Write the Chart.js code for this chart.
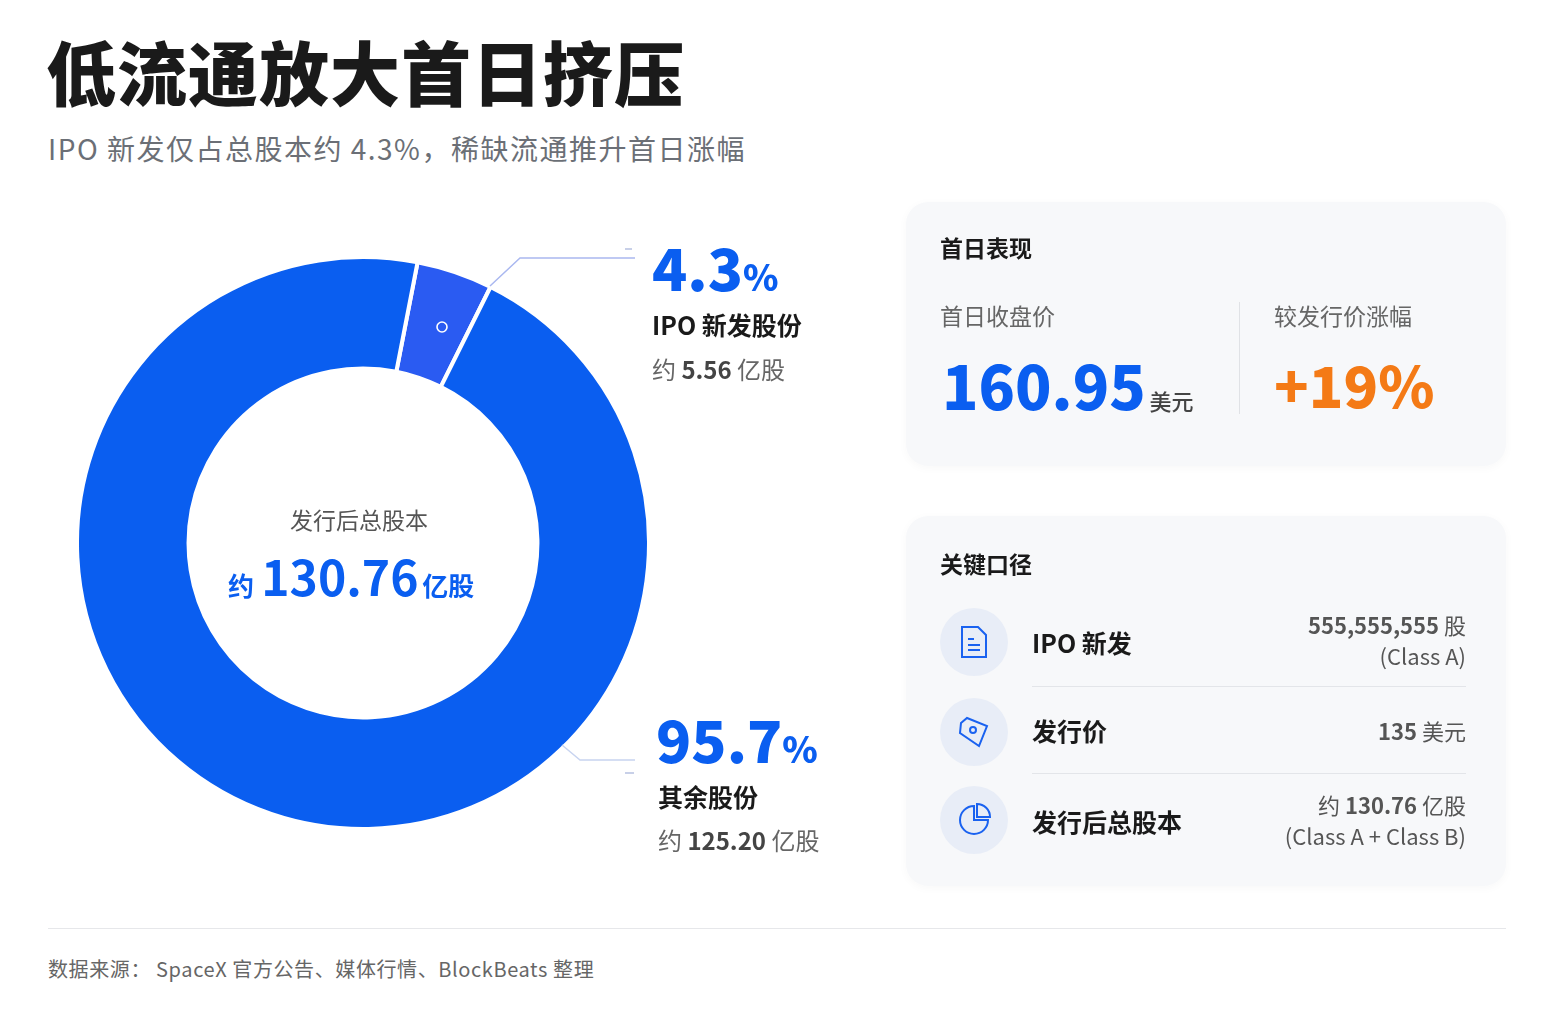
<!DOCTYPE html>
<html><head><meta charset="utf-8">
<script src="https://cdn.jsdelivr.net/npm/chart.js@4"></script>
<style>
body{margin:0;width:1555px;height:1011px;background:#fff;font-family:"Noto Sans CJK SC","Noto Sans",sans-serif;position:relative;overflow:hidden;color:#1a1a1a}
.abs{position:absolute;white-space:nowrap}
.card{position:absolute;background:#f7f8fa;border-radius:22px;box-shadow:0 2px 10px rgba(0,0,0,0.03)}
.blue{color:#0a5ef0}
.ic{position:absolute;left:34px;width:68px;height:68px;border-radius:50%;background:#e8edf7;display:flex;align-items:center;justify-content:center}
.sep{position:absolute;left:126px;right:40px;height:1px;background:#e3e5e9}
</style></head><body>
<div class="abs" style="left:46px;top:20px;font-size:70px;font-weight:900;letter-spacing:1px">低流通放大首日挤压</div>
<div class="abs" style="left:48px;top:128px;font-size:28px;color:#6b6f76;letter-spacing:1.5px">IPO 新发仅占总股本约 4.3%，稀缺流通推升首日涨幅</div>

<div style="position:absolute;left:75px;top:255px;width:576px;height:576px"><canvas id="donut"></canvas></div>
<svg class="abs" style="left:0;top:0" width="900" height="900">
<polyline points="490,286 520,258 635,258" fill="none" stroke="#aab8f0" stroke-width="1.5"/>
<line x1="625" y1="249" x2="632" y2="249" stroke="#c8d0e8" stroke-width="2"/>
<polyline points="562,745 580,760 635,760" fill="none" stroke="#c8d4f0" stroke-width="1.5"/>
<line x1="625" y1="773" x2="634" y2="773" stroke="#c8d0e8" stroke-width="2"/>
<circle cx="442" cy="327" r="5" fill="none" stroke="#fff" stroke-width="1.6"/>
</svg>
<div class="abs" style="left:290px;top:502px;font-size:23px;color:#555">发行后总股本</div>
<div class="abs blue" style="left:228px;top:540px;font-weight:700"><span style="font-size:26px">约</span>&nbsp; <span style="font-size:48px">130.76</span> <span style="font-size:26px">亿股</span></div>

<div class="abs blue" style="left:652px;top:224px;font-weight:800"><span style="font-size:58px">4.3</span><span style="font-size:36px">%</span></div>
<div class="abs" style="left:652px;top:306px;font-size:25px;font-weight:700">IPO 新发股份</div>
<div class="abs" style="left:652px;top:351px;font-size:24px;color:#666">约 <b style="color:#444">5.56</b> 亿股</div>
<div class="abs blue" style="left:656px;top:696px;font-weight:800"><span style="font-size:58px">95.7</span><span style="font-size:36px">%</span></div>
<div class="abs" style="left:658px;top:778px;font-size:25px;font-weight:700">其余股份</div>
<div class="abs" style="left:658px;top:822px;font-size:24px;color:#666">约 <b style="color:#444">125.20</b> 亿股</div>

<div class="card" style="left:906px;top:202px;width:600px;height:264px">
 <div class="abs" style="left:34px;top:28px;font-size:23px;font-weight:700">首日表现</div>
 <div class="abs" style="left:34px;top:96px;font-size:23px;color:#666">首日收盘价</div>
 <div class="abs blue" style="left:36px;top:138px;font-weight:800"><span style="font-size:60px">160.95</span> <span style="font-size:22px;color:#444;font-weight:500">美元</span></div>
 <div class="abs" style="left:333px;top:100px;width:1px;height:112px;background:#e0e2e6"></div>
 <div class="abs" style="left:368px;top:96px;font-size:23px;color:#666">较发行价涨幅</div>
 <div class="abs" style="left:368px;top:140px;font-size:57px;font-weight:800;color:#f47a16">+19%</div>
</div>

<div class="card" style="left:906px;top:516px;width:600px;height:370px">
 <div class="abs" style="left:34px;top:30px;font-size:23px;font-weight:700">关键口径</div>
 <div class="ic" style="top:92px"><svg width="30" height="34" viewBox="0 0 30 34" fill="none" stroke="#1a62f0" stroke-width="2"><path d="M3 2h16l8 8v22H3z"/><path d="M9 14h6M9 20h12M9 25h12"/></svg></div>
 <div class="abs" style="left:126px;top:108px;font-size:25px;font-weight:700">IPO 新发</div>
 <div class="abs" style="right:40px;top:93px;font-size:22px;color:#555;text-align:right;line-height:31px"><b>555,555,555</b> 股<br>(Class A)</div>
 <div class="sep" style="top:170px"></div>
 <div class="ic" style="top:182px"><svg width="34" height="34" viewBox="0 0 34 34" fill="none" stroke="#1a62f0" stroke-width="2"><path d="M4 8l6-5 20 8-8 20L3 18z"/><circle cx="16" cy="15" r="3"/></svg></div>
 <div class="abs" style="left:126px;top:196px;font-size:25px;font-weight:700">发行价</div>
 <div class="abs" style="right:40px;top:198px;font-size:22px;color:#555"><b>135</b> 美元</div>
 <div class="sep" style="top:257px"></div>
 <div class="ic" style="top:270px"><svg width="34" height="34" viewBox="0 0 34 34" fill="none" stroke="#1a62f0" stroke-width="2"><path d="M17 3a14 14 0 1 0 14 14H17z"/><path d="M20 1v13h13A13 13 0 0 0 20 1z"/></svg></div>
 <div class="abs" style="left:126px;top:287px;font-size:25px;font-weight:700">发行后总股本</div>
 <div class="abs" style="right:40px;top:273px;font-size:22px;color:#555;text-align:right;line-height:31px">约 <b>130.76</b> 亿股<br>(Class A + Class B)</div>
</div>

<div class="abs" style="left:48px;top:928px;width:1458px;height:1px;background:#e6e7ea"></div>
<div class="abs" style="left:48px;top:954px;font-size:20px;color:#666;letter-spacing:0.6px">数据来源： SpaceX 官方公告、媒体行情、BlockBeats 整理</div>

<script>
const labels = ['IPO 新发股份', '其余股份'];
const shares = [4.3, 95.7];
const colors = ['#2a5bf2', '#0a5ef0'];

new Chart(document.getElementById('donut'), {
  type: 'doughnut',
  data: {
    labels: labels,
    datasets: [{
      data: shares,
      backgroundColor: colors,
      borderColor: '#ffffff',
      borderWidth: 4
    }]
  },
  options: {
    responsive: true,
    maintainAspectRatio: false,
    animation: false,
    cutout: '61%',
    rotation: 11,
    plugins: { legend: { display: false }, tooltip: { enabled: false } }
  }
});
</script>
</body></html>
